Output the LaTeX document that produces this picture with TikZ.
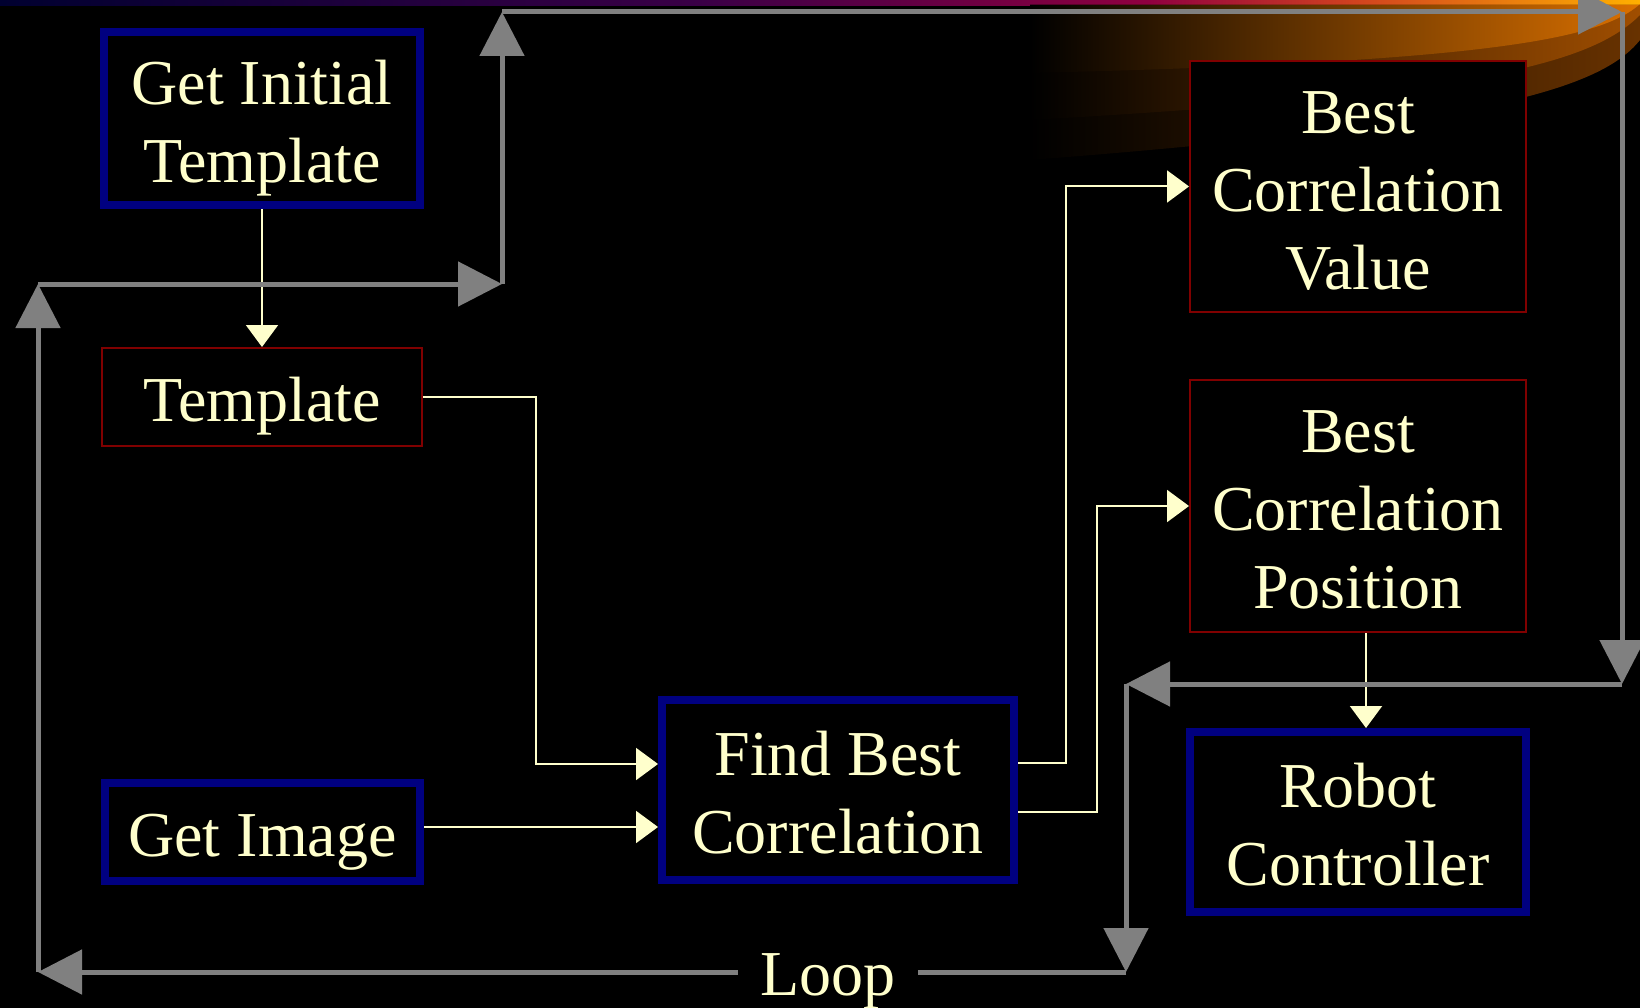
\documentclass[tikz,border=0pt]{standalone}
\usepackage{fontspec}
\setmainfont{Liberation Serif}
\usetikzlibrary{arrows.meta,calc}
\definecolor{cream}{HTML}{FFFFCC}
\definecolor{navyb}{HTML}{000080}
\definecolor{darkr}{HTML}{800000}
\definecolor{loopg}{HTML}{808080}
\newcommand{\sx}{\rule[-14.4pt]{0pt}{78pt}}
\begin{document}
\begin{tikzpicture}[x=1pt,y=-1pt,
  box/.style={rectangle, fill=black, text=cream, align=center, inner sep=0pt,
    font=\fontsize{64}{78}\selectfont},
  bluebox/.style={box, draw=navyb, line width=8pt},
  redbox/.style={box, draw=darkr, line width=2pt},
  cr/.style={draw=cream, line width=2pt, -{Triangle[length=22pt,width=32pt]}},
  gr/.style={draw=loopg, line width=5pt, -{Triangle[length=44pt,width=44pt]}},
  band/.style={draw=none}]
% background
\fill[black] (0,0) rectangle (1640,1008);
\useasboundingbox (0,0) rectangle (1640,1008);
% top band
\shade[left color={rgb,255:red,0;green,0;blue,48}, right color={rgb,255:red,58;green,0;blue,70}] (0,0) rectangle (700,6);
\shade[left color={rgb,255:red,58;green,0;blue,70}, right color={rgb,255:red,144;green,0;blue,64}] (699,0) rectangle (1150,6);
\shade[left color={rgb,255:red,144;green,0;blue,64}, right color={rgb,255:red,208;green,64;blue,32}] (1149,0) rectangle (1350,6);
\shade[left color={rgb,255:red,208;green,64;blue,32}, right color={rgb,255:red,255;green,176;blue,0}] (1349,0) rectangle (1640,6);
% swoosh
\shade[band, left color=black, middle color={rgb,255:red,62;green,28;blue,0}, right color={rgb,255:red,104;green,50;blue,0}]
  (1030,5) -- (1640,5) -- (1640,40) .. controls (1600,90) and (1480,125) .. (1030,160) -- cycle;
\shade[band, left color=black, middle color={rgb,255:red,96;green,45;blue,0}, right color={rgb,255:red,160;green,78;blue,0}]
  (1030,5) -- (1640,5) -- (1640,15) .. controls (1590,65) and (1470,95) .. (1030,120) -- cycle;
\shade[band, left color=black, middle color={rgb,255:red,136;green,66;blue,0}, right color={rgb,255:red,218;green,112;blue,0}]
  (1030,5) -- (1640,5) -- (1640,4) .. controls (1600,40) and (1480,62) .. (1030,73) -- cycle;

% boxes
\node[bluebox, minimum width=316pt, minimum height=173pt] (git) at (262,118.5) {\sx Get Initial\\\sx Template};
\node[redbox, minimum width=320pt, minimum height=98pt] (tmpl) at (262,397) {\sx Template};
\node[bluebox, minimum width=315pt, minimum height=98pt] (gi) at (262.5,832) {\sx Get Image};
\node[bluebox, minimum width=352pt, minimum height=180pt] (fbc) at (838,790) {\sx Find Best\\\sx Correlation};
\node[redbox, minimum width=336pt, minimum height=251pt] (bcv) at (1358,186.5) {\sx Best\\\sx Correlation\\\sx Value};
\node[redbox, minimum width=336pt, minimum height=252pt] (bcp) at (1358,506) {\sx Best\\\sx Correlation\\\sx Position};
\node[bluebox, minimum width=336pt, minimum height=180pt] (robot) at (1358,822) {\sx Robot\\\sx Controller};

% cream connectors
\draw[cr] (git.south) -- (tmpl.north);
\draw[cr] (tmpl.east) -- ++(113,0) |- ([yshift=26pt]fbc.west);
\draw[cr] ([yshift=5pt]gi.east) -- ([yshift=5pt]gi.east -| fbc.west);
\draw[cr] ([yshift=27pt]fbc.east) -- ++(48,0) |- (bcv.west);
\draw[cr] ([yshift=-22pt]fbc.east) -- ++(79,0) |- (bcp.west);
\draw[cr] ([xshift=8pt]bcp.south) -- ([xshift=8pt]robot.north);

% grey loop
\coordinate (L1) at (38,972);
\coordinate (L2) at (38,284);
\coordinate (L3) at (502,284);
\coordinate (L4) at (502,12);
\coordinate (L5) at (1622,12);
\coordinate (L6) at (1622,684);
\coordinate (L7) at (1126,684);
\coordinate (L8) at (1126,972);
\draw[gr] (L1) -- (L2);
\draw[gr] (L2) -- (L3);
\draw[gr] (L3) -- (L4);
\draw[gr] (L4) -- (L5);
\draw[gr] (L5) -- (L6);
\draw[gr] (L6) -- (L7);
\draw[gr] (L7) -- (L8);
\draw[gr] (L8) -- (L1);
\node[fill=black, text=cream, inner xsep=22pt, inner ysep=0pt, anchor=base,
  font=\fontsize{64}{78}\selectfont] (loop) at (828,995) {Loop};
\end{tikzpicture}
\end{document}
